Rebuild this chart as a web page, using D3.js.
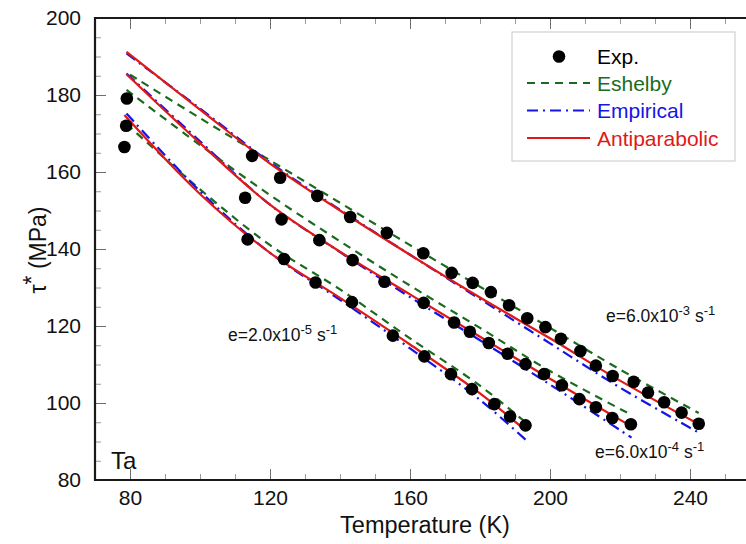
<!DOCTYPE html>
<html>
<head>
<meta charset="utf-8">
<script src="https://cdn.jsdelivr.net/npm/d3@7"></script>
<style>
  html, body { margin: 0; padding: 0; background: #fff; }
  svg { display: block; font-family: "Liberation Sans", Arial, sans-serif; }
</style>
</head>
<body>
<svg id="chart" width="746" height="544"></svg>
<script>
// Axis ticks
const xMajorTicks = [80, 120, 160, 200, 240];
const yMajorTicks = [80, 100, 120, 140, 160, 180, 200];

// Experimental points, strain rate 6.0e-3 s^-1
const expT_hi   = [79.1, 114.9, 122.9, 133.5, 142.9, 153.4, 163.8, 171.9, 177.9, 183.1, 188.3, 193.5, 198.7, 203.1, 208.7, 213.1, 217.9, 223.9, 228.0, 232.6, 237.6, 242.5];
const expTau_hi = [179.1, 164.2, 158.5, 153.8, 148.3, 144.2, 138.9, 133.8, 131.2, 128.8, 125.4, 122.0, 119.7, 116.7, 113.5, 109.7, 107.0, 105.5, 102.7, 100.2, 97.5, 94.6];
// Experimental points, strain rate 6.0e-4 s^-1
const expT_mid   = [78.9, 112.9, 123.3, 134.1, 143.6, 152.7, 163.9, 172.6, 177.1, 182.5, 187.9, 193.0, 198.3, 203.4, 208.4, 213.1, 217.8, 223.1];
const expTau_mid = [172.0, 153.3, 147.7, 142.3, 137.1, 131.5, 126.0, 120.9, 118.5, 115.6, 112.8, 110.1, 107.5, 104.6, 101.0, 98.9, 96.1, 94.5];
// Experimental points, strain rate 2.0e-5 s^-1
const expT_lo   = [78.4, 113.6, 124.0, 133.0, 143.4, 155.1, 164.1, 171.7, 177.7, 184.1, 188.6, 193.0];
const expTau_lo = [166.5, 142.5, 137.4, 131.3, 126.2, 117.5, 112.1, 107.5, 103.6, 99.7, 96.5, 94.2];

// Model curves: Eshelby, Empirical, Antiparabolic
const eshT_hi   = [80, 100, 120, 140, 160, 180, 200, 220, 242.5];
const eshTau_hi = [185.3, 174.0, 163.0, 152.0, 141.0, 130.2, 119.5, 108.7, 97.4];
const empT_hi   = [79, 100, 120, 140, 160, 180, 200, 220, 242.5];
const empTau_hi = [190.8, 176.5, 162.5, 150.2, 138.5, 127.0, 115.5, 104.0, 92.3];
const antT_hi   = [79, 100, 120, 140, 160, 180, 200, 220, 242.5];
const antTau_hi = [191.2, 176.2, 162.2, 150.0, 138.5, 127.4, 116.8, 105.8, 94.5];

const eshT_mid   = [79, 100, 120, 140, 160, 180, 200, 223.3];
const eshTau_mid = [181.3, 167.0, 154.0, 142.0, 130.5, 119.5, 108.3, 96.9];
const empT_mid   = [79, 100, 120, 140, 160, 180, 200, 223.3];
const empTau_mid = [185.6, 168.0, 151.5, 139.2, 127.5, 116.3, 104.8, 91.0];
const antT_mid   = [79, 100, 120, 140, 160, 180, 200, 223.5];
const antTau_mid = [185.4, 167.5, 151.5, 139.3, 128.2, 117.2, 106.3, 93.8];

const eshT_lo   = [79, 100, 120, 140, 160, 180, 193];
const eshTau_lo = [172.5, 155.5, 141.0, 129.5, 116.8, 104.5, 95.0];
const empT_lo   = [79, 100, 120, 140, 160, 180, 193];
const empTau_lo = [175.2, 155.0, 139.0, 126.8, 114.2, 100.8, 90.5];
const antT_lo   = [78.4, 100, 120, 140, 160, 180, 193.1];
const antTau_lo = [174.8, 154.3, 139.0, 127.3, 115.2, 102.5, 92.8];

const legendLabels = ["Exp.", "Eshelby", "Empirical", "Antiparabolic"];

const colors = { exp: "#000000", esh: "#1b6b1f", emp: "#1414e6", ant: "#e01818" };

const svg = d3.select("#chart");
const x = d3.scaleLinear().domain([70, 260]).range([95, 760]);
const y = d3.scaleLinear().domain([80, 200]).range([480, 18]);

const zip = (a, b) => a.map((v, i) => [v, b[i]]);
const line = d3.line().x(d => x(d[0])).y(d => y(d[1])).curve(d3.curveCatmullRom.alpha(0.5));

// Minor ticks
const xMinor = d3.range(80, 261, 10);
const yMinor = d3.range(80, 201, 5);

function styleAxis(g, color) {
  g.select(".domain").remove();
  g.selectAll(".tick line").attr("stroke", color).attr("stroke-width", 1);
}

svg.append("g").attr("transform", "translate(0,480)")
  .call(d3.axisBottom(x).tickValues(xMinor).tickSize(-6).tickFormat(""))
  .call(g => styleAxis(g, "#9a9a9a"));
svg.append("g").attr("transform", "translate(0,18)")
  .call(d3.axisTop(x).tickValues(xMinor).tickSize(-6).tickFormat(""))
  .call(g => styleAxis(g, "#9a9a9a"));
svg.append("g").attr("transform", "translate(95,0)")
  .call(d3.axisLeft(y).tickValues(yMinor).tickSize(-6).tickFormat(""))
  .call(g => styleAxis(g, "#9a9a9a"));

// Major ticks with labels
svg.append("g").attr("transform", "translate(0,480)")
  .call(d3.axisBottom(x).tickValues(xMajorTicks).tickSize(-11).tickPadding(8).tickFormat(d3.format("d")))
  .call(g => styleAxis(g, "#6e6e6e"))
  .call(g => g.selectAll("text").attr("font-size", 21).attr("fill", "#111").attr("dy", "0.8em")
    .style("font-family", "'Liberation Sans', Arial, sans-serif"));
svg.append("g").attr("transform", "translate(0,18)")
  .call(d3.axisTop(x).tickValues(xMajorTicks).tickSize(-11).tickFormat(""))
  .call(g => styleAxis(g, "#6e6e6e"));
svg.append("g").attr("transform", "translate(95,0)")
  .call(d3.axisLeft(y).tickValues(yMajorTicks).tickSize(-11).tickPadding(14).tickFormat(d3.format("d")))
  .call(g => styleAxis(g, "#6e6e6e"))
  .call(g => g.selectAll("text").attr("font-size", 21).attr("fill", "#111")
    .style("font-family", "'Liberation Sans', Arial, sans-serif"));

// Frame
svg.append("line").attr("x1", 95).attr("x2", 95).attr("y1", 17).attr("y2", 481)
  .attr("stroke", "#1a1a1a").attr("stroke-width", 2.2);
svg.append("line").attr("x1", 94).attr("x2", 746).attr("y1", 18).attr("y2", 18)
  .attr("stroke", "#1a1a1a").attr("stroke-width", 2);
svg.append("line").attr("x1", 94).attr("x2", 746).attr("y1", 480).attr("y2", 480)
  .attr("stroke", "#1a1a1a").attr("stroke-width", 2);

// Model curves
const series = [
  [eshT_hi, eshTau_hi, "esh"], [eshT_mid, eshTau_mid, "esh"], [eshT_lo, eshTau_lo, "esh"],
  [empT_hi, empTau_hi, "emp"], [empT_mid, empTau_mid, "emp"], [empT_lo, empTau_lo, "emp"],
  [antT_hi, antTau_hi, "ant"], [antT_mid, antTau_mid, "ant"], [antT_lo, antTau_lo, "ant"]
];
const dashes = { esh: "8,6", emp: "11,5,2,5", ant: null };
series.forEach(([t, v, k]) => {
  svg.append("path").datum(zip(t, v)).attr("d", line)
    .attr("fill", "none").attr("stroke", colors[k]).attr("stroke-width", 2.2)
    .attr("stroke-dasharray", dashes[k]);
});

// Experimental points
[[expT_hi, expTau_hi], [expT_mid, expTau_mid], [expT_lo, expTau_lo]].forEach(([t, v]) => {
  svg.append("g").selectAll("circle").data(zip(t, v)).join("circle")
    .attr("cx", d => x(d[0])).attr("cy", d => y(d[1])).attr("r", 6.3).attr("fill", colors.exp);
});

// Strain-rate annotations
function rateLabel(px, py, mant, exp) {
  const t = svg.append("text").attr("x", px).attr("y", py).attr("font-size", 17.5).attr("fill", "#111");
  t.append("tspan").text("e=" + mant + "x10");
  t.append("tspan").attr("dy", -7).attr("font-size", 13).text(exp);
  t.append("tspan").attr("dy", 7).text(" s");
  t.append("tspan").attr("dy", -7).attr("font-size", 13).text("-1");
}
rateLabel(228, 341, "2.0", "-5");
rateLabel(606, 322, "6.0", "-3");
rateLabel(595, 458, "6.0", "-4");

// Material label
svg.append("text").attr("x", 111).attr("y", 469).attr("font-size", 24).attr("fill", "#111").text("Ta");

// Axis titles
svg.append("text").attr("x", 425).attr("y", 533).attr("text-anchor", "middle")
  .attr("font-size", 23.5).attr("fill", "#111").text("Temperature (K)");
const yt = svg.append("text").attr("transform", "translate(46,250) rotate(-90)")
  .attr("text-anchor", "middle").attr("font-size", 23).attr("fill", "#111");
yt.append("tspan").text("τ");
yt.append("tspan").attr("dy", -6).text("*");
yt.append("tspan").attr("dy", 6).text(" (MPa)");

// Legend
const lg = svg.append("g");
lg.append("rect").attr("x", 512).attr("y", 32).attr("width", 223).attr("height", 129)
  .attr("fill", "#fff").attr("stroke", "#c8c8c8").attr("stroke-width", 1);
const rows = [56.5, 83, 110.5, 138];
const keys = ["exp", "esh", "emp", "ant"];
keys.forEach((k, i) => {
  if (k === "exp") {
    lg.append("circle").attr("cx", 559).attr("cy", rows[i]).attr("r", 6.3).attr("fill", colors.exp);
  } else {
    lg.append("line").attr("x1", 527).attr("x2", 590).attr("y1", rows[i]).attr("y2", rows[i])
      .attr("stroke", colors[k]).attr("stroke-width", 2.2).attr("stroke-dasharray", dashes[k]);
  }
  lg.append("text").attr("x", 597).attr("y", rows[i] + 7.5).attr("font-size", 21)
    .attr("fill", colors[k]).text(legendLabels[i]);
});
</script>
</body>
</html>
